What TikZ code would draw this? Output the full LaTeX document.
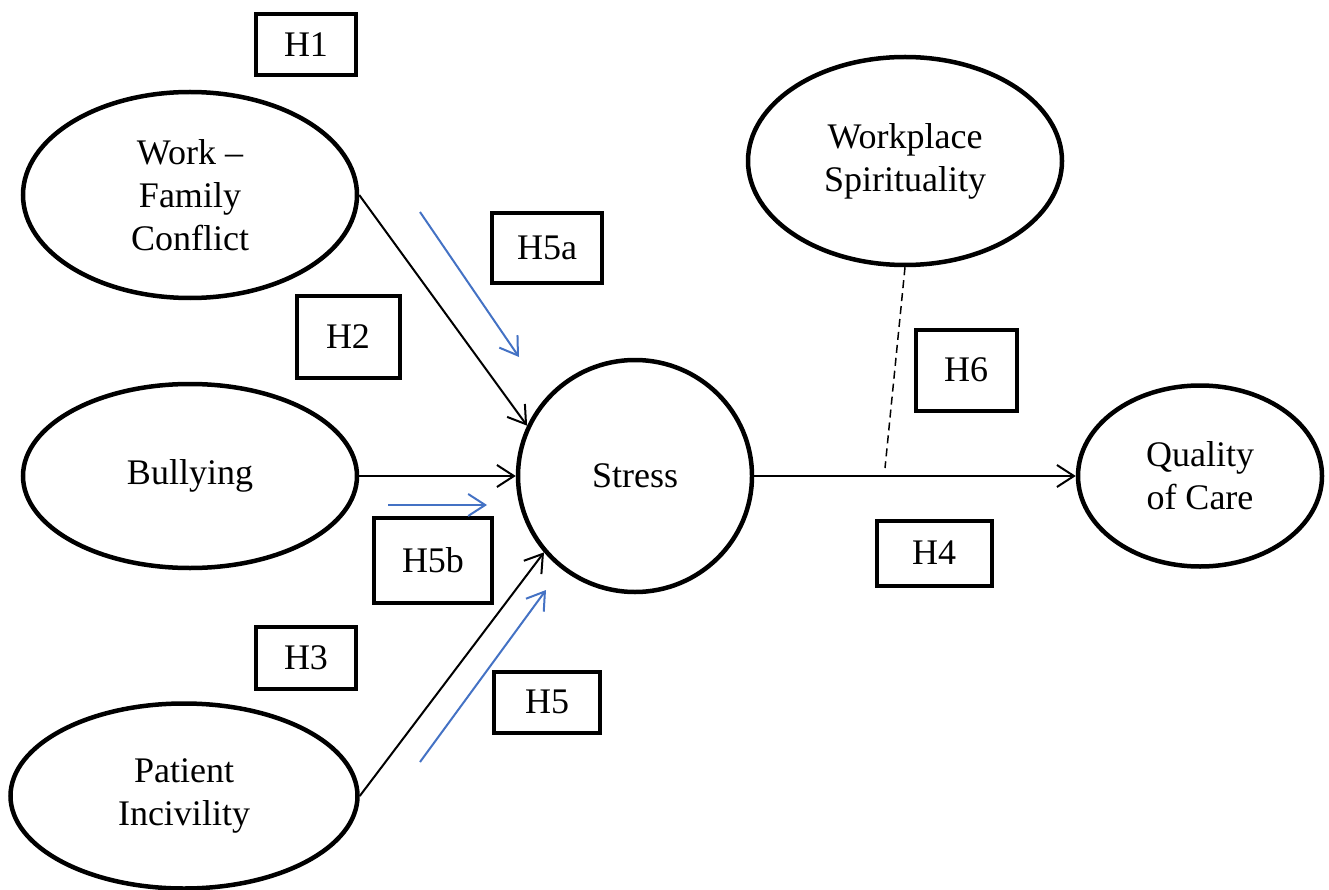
\documentclass[tikz,border=0pt]{standalone}
\usepackage{fontspec}
\setmainfont{Liberation Serif}
\usetikzlibrary{shapes.geometric,arrows.meta}
\definecolor{hblue}{RGB}{68,114,196}
\tikzset{
	var/.style={draw,ellipse,line width=4.5pt,inner sep=0pt,align=center,font=\fontsize{36}{43}\selectfont},
	hyp/.style={draw,rectangle,line width=4pt,inner sep=0pt,font=\fontsize{36}{43}\selectfont},
	link/.style={line width=2pt,-{Straight Barb[length=17pt,width=22pt,line width=2pt]}},
	blink/.style={link,hblue}
}
\begin{document}
\begin{tikzpicture}[x=1pt,y=-1pt]
		\useasboundingbox (0,0) rectangle (1329,890);
		% latent variables
		\node[var,minimum width=334,minimum height=206] (wfc) at (190,195) {Work --\\Family\\Conflict};
		\node[var,minimum width=334,minimum height=184] (bul) at (190,476) {Bullying};
		\node[var,minimum width=347,minimum height=185] (pin) at (184,796) {Patient\\Incivility};
		\node[var,minimum width=234,minimum height=232] (str) at (635,476) {Stress};
		\node[var,minimum width=314,minimum height=208] (wps) at (905,161) {Workplace\\Spirituality};
		\node[var,minimum width=244,minimum height=181] (qoc) at (1200,476) {Quality\\of Care};
		% hypothesis labels
		\node[hyp,minimum width=100,minimum height=61] (h1) at (306,45) {H1};
		\node[hyp,minimum width=103,minimum height=81] (h2) at (348,337) {H2};
		\node[hyp,minimum width=100,minimum height=62] (h3) at (306,658) {H3};
		\node[hyp,minimum width=115,minimum height=65] (h4) at (934,553) {H4};
		\node[hyp,minimum width=106,minimum height=61] (h5) at (547,702) {H5};
		\node[hyp,minimum width=110,minimum height=70] (h5a) at (547,248) {H5a};
		\node[hyp,minimum width=118,minimum height=85] (h5b) at (433,560) {H5b};
		\node[hyp,minimum width=101,minimum height=81] (h6) at (966,370) {H6};
		% paths
		\draw[link] (wfc.east) -- (str.155);
		\draw[link] (bul.east) -- (str.west);
		\draw[link] (pin.east) -- (str.220);
		\draw[link] (str.east) -- (qoc.west);
		\coordinate (mod) at (885,468);
		\draw[line width=1.5pt,dash pattern=on 8pt off 5pt] (wps.south) -- (mod);
		% mediation arrows
		\coordinate (a1) at (420,212); \coordinate (a2) at (519,357);
		\coordinate (b1) at (388,505); \coordinate (b2) at (487,505);
		\coordinate (c1) at (420,762); \coordinate (c2) at (546,590);
		\draw[blink] (a1) -- (a2);
		\draw[blink] (b1) -- (b2);
		\draw[blink] (c1) -- (c2);
\end{tikzpicture}
\end{document}
